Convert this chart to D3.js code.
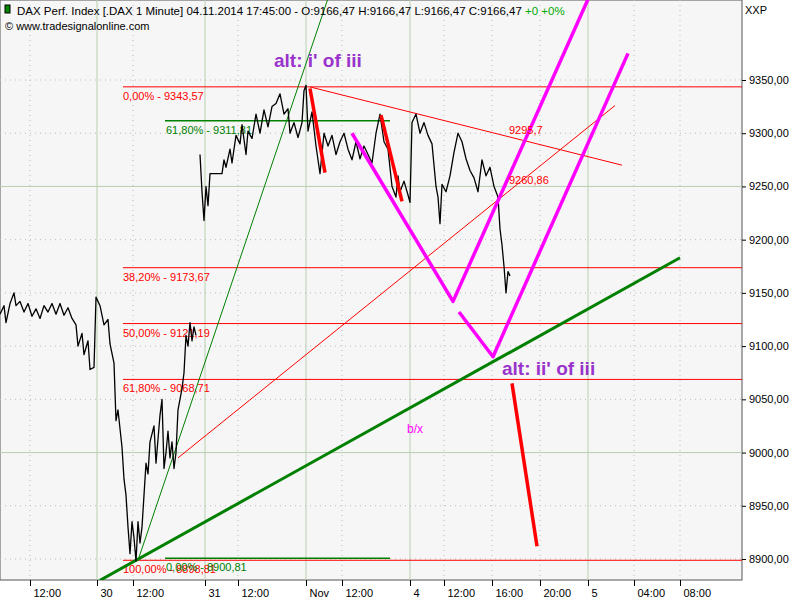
<!DOCTYPE html>
<html><head><meta charset="utf-8">
<script src="https://cdn.jsdelivr.net/npm/d3@7"></script>
<style>body{margin:0;background:#fff;font-family:"Liberation Sans",Arial,sans-serif}</style>
</head><body><svg id="c" width="800" height="600" font-family="Liberation Sans, Arial, sans-serif"></svg>
<script>
// x in chart units (1 unit = 2px of compressed trading time)
const tickPos = [15, 48.5, 66.5, 102.5, 119, 153, 171, 205, 222, 246, 270, 294, 317, 340];
const tickLabels = ["12:00","30","12:00","31","12:00","Nov","12:00","4","12:00","16:00","20:00","5","04:00","08:00"];
const dayTicks = [48.5, 102.5, 153, 205, 294];
const priceTicks = [8900, 8950, 9000, 9050, 9100, 9150, 9200, 9250, 9300, 9350];

// price path
const seg1 = [[0,9130],[2,9138],[3,9122],[5,9140],[7,9150],[8,9138],[10,9142],[12,9132],[14,9140],[16,9128],[18,9135],[20,9126],[22,9138],[24,9132],[26,9140],[28,9130],[30,9140],[32,9129],[34,9136],[36,9126],[38,9120],[39,9100],[41,9112],[42,9092],[44,9105],[45,9078],[47,9080],[48,9146],[50,9138],[52,9120],[54,9125],[55,9102],[57,9084],[58,9030],[59,9040],[61,9005],[62,8975],[63,8960],[64,8930],[65,8905],[66,8935],[67,8920],[68,8898],[69,8935],[70,8915],[71,8930],[72,8960],[73,8990],[74,8980],[75,9010],[77,9025],[78,8990],[80,9035],[81,9050],[82,8985],[83,9000],[84,9020],[85,8995],[86,9010],[87,8985],[88,9000],[89,9040],[91,9060],[92,9075],[93,9110],[94,9100],[95,9122],[96,9105],[97,9118],[98,9110]];
const seg2 = [[100,9280],[101,9245],[102,9218],[103,9250],[104,9232],[105,9262],[111,9262],[112,9275],[113,9268],[115,9285],[116,9272],[118,9298],[120,9290],[121,9308],[123,9280],[124,9302],[126,9295],[128,9318],[130,9300],[132,9322],[134,9306],[136,9325],[138,9328],[140,9337],[142,9318],[144,9323],[145,9300],[147,9310],[149,9296],[151,9310],[152,9340],[153,9345],[154,9302],[156,9320],[158,9288],[160,9262],[162,9300],[164,9288],[166,9298],[168,9280],[170,9292],[172,9300],[174,9285],[176,9275],[178,9292],[180,9276],[182,9288],[184,9280],[186,9272],[188,9300],[190,9318],[192,9292],[194,9285],[196,9250],[198,9240],[199,9260],[200,9245],[202,9255],[204,9242],[205,9235],[206,9310],[208,9318],[210,9300],[212,9310],[214,9298],[216,9290],[218,9250],[219,9240],[220,9215],[221,9252],[223,9245],[225,9260],[227,9282],[229,9300],[231,9292],[233,9276],[235,9265],[237,9258],[239,9245],[241,9275],[243,9260],[245,9268],[247,9250],[249,9240],[250,9210],[251,9195],[252,9175],[253,9150],[254,9170],[255,9166]];

const fibRed = [[9343.57,"0,00% - 9343,57"],[9173.67,"38,20% - 9173,67"],[9121.19,"50,00% - 9121,19"],[9068.71,"61,80% - 9068,71"],[8898.81,"100,00% - 8898,81"]];
const fibGreen = [[9311.81,"61,80% - 9311,81"],[8900.81,"0,00% - 8900,81"]];

const svg = d3.select("#c");
const W = 742, H = 580;
const x = d3.scaleLinear().domain([0, 371]).range([0, W]);
// 9350 -> 80px, 8900 -> 559px
const y = d3.scaleLinear().domain([8900 - (579 - 559) / 1.0644, 9350 + 80 / 1.0644]).range([579, 0]);

svg.append("rect").attr("width", W).attr("height", H).attr("fill", "#f6f6f6").attr("stroke", "#555");
svg.append("clipPath").attr("id", "cp").append("rect").attr("width", W).attr("height", H);
const g = svg.append("g").attr("clip-path", "url(#cp)");

// grid
tickPos.forEach(t => {
  const solid = dayTicks.includes(t);
  g.append("line").attr("x1", x(t)).attr("x2", x(t)).attr("y1", 0).attr("y2", H)
    .attr("stroke", solid ? "#b8cfb0" : "#bbb").attr("stroke-dasharray", solid ? null : "1,4");
});
priceTicks.forEach(p => {
  const solid = p === 9000 || p === 9250;
  g.append("line").attr("x1", 0).attr("x2", W).attr("y1", y(p)).attr("y2", y(p))
    .attr("stroke", solid ? "#b8cfb0" : "#bbb").attr("stroke-dasharray", solid ? null : "1,4");
});

// axes
const xAxis = d3.axisBottom(x).tickValues(tickPos).tickFormat((d, i) => tickLabels[i]).tickSize(6);
const ax = svg.append("g").attr("transform", `translate(0,${H})`).call(xAxis);
ax.select(".domain").remove();
ax.selectAll("text").attr("font-size", 11).attr("fill", "#000").attr("text-anchor", "start").attr("dx", 3).attr("font-family", null);
const yAxis = d3.axisRight(y).tickValues(priceTicks).tickFormat(d => d3.format(".2f")(d).replace(".", ",")).tickSize(4);
const ay = svg.append("g").attr("transform", `translate(${W},0)`).call(yAxis);
ay.select(".domain").remove();
ay.selectAll("text").attr("font-size", 11).attr("fill", "#000");
ax.attr("font-family", null); ay.attr("font-family", null);
svg.append("text").attr("x", 745).attr("y", 14).attr("font-size", 11).text("XXP");

// fib lines
fibRed.forEach(([v, lab]) => {
  g.append("line").attr("x1", x(61.5)).attr("x2", W).attr("y1", y(v)).attr("y2", y(v)).attr("stroke", "red");
  g.append("text").attr("x", x(61.5)).attr("y", y(v) + 13).attr("fill", "red").attr("font-size", 11).text(lab);
});
fibGreen.forEach(([v, lab]) => {
  g.append("line").attr("x1", x(82.5)).attr("x2", x(195)).attr("y1", y(v)).attr("y2", y(v)).attr("stroke", "green").attr("stroke-width", 1.5);
  g.append("text").attr("x", x(83)).attr("y", y(v) + 13).attr("fill", "green").attr("font-size", 11).text(lab);
});

const seg = (pts, col, w) => g.append("path").attr("fill", "none").attr("stroke", col).attr("stroke-width", w)
  .attr("stroke-linejoin", "round").attr("d", d3.line().x(d => x(d[0])).y(d => y(d[1]))(pts));

// trend lines
seg([[69, 8898.8], [170, 9460]], "green", 1);
seg([[50, 8880], [340, 9183]], "green", 3);
seg([[89, 8995], [307.5, 9326]], "red", 1);
seg([[155, 9343.5], [311, 9270]], "red", 1);

// price
seg(seg1, "#000", 1.3);
seg(seg2, "#000", 1.3);

// red projections
seg([[155, 9342], [162.5, 9263]], "red", 3.5);
seg([[190.5, 9317], [201, 9236]], "red", 3.5);
seg([[256, 9065], [268.5, 8912]], "red", 3.5);

// magenta paths
seg([[176, 9300], [226.5, 9142], [295, 9430]], "#ff00ff", 3.5);
seg([[229.5, 9132], [246.5, 9090], [314, 9375]], "#ff00ff", 3.5);

g.append("text").attr("x", x(137)).attr("y", 67).attr("fill", "#9933cc").attr("font-size", 19).attr("font-weight", "bold").text("alt: i' of iii");
g.append("text").attr("x", x(251)).attr("y", 375).attr("fill", "#9933cc").attr("font-size", 19).attr("font-weight", "bold").text("alt: ii' of iii");
g.append("text").attr("x", x(203.5)).attr("y", 433).attr("fill", "#ff00ff").attr("font-size", 12).text("b/x");
g.append("text").attr("x", 509).attr("y", 134).attr("fill", "red").attr("font-size", 11).text("9295,7");
g.append("text").attr("x", 509).attr("y", 184).attr("fill", "red").attr("font-size", 11).text("9260,86");

// header
svg.append("rect").attr("x", 5).attr("y", 5).attr("width", 5).attr("height", 8).attr("fill", "#080").attr("stroke", "#000");
const hd = svg.append("text").attr("x", 17).attr("y", 15).attr("font-size", 11.5);
hd.append("tspan").text("DAX Perf. Index [.DAX  1 Minute] 04.11.2014 17:45:00 - O:9166,47 H:9166,47 L:9166,47 C:9166,47 ");
hd.append("tspan").attr("fill", "#0a0").text("+0 +0%");
svg.append("text").attr("x", 5).attr("y", 30).attr("font-size", 11).text("© www.tradesignalonline.com");
</script></body></html>
